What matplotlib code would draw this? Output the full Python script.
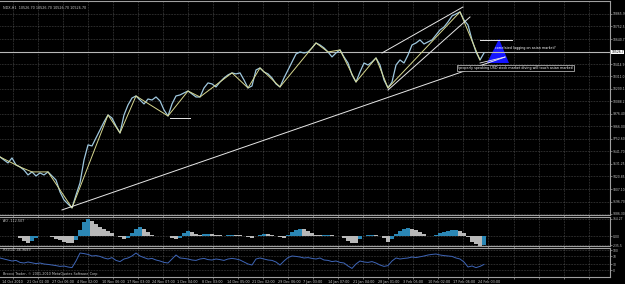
import numpy as np
import matplotlib
matplotlib.use('Agg')
import matplotlib.pyplot as plt
from matplotlib.transforms import ScaledTranslation

# ---------------- data ----------------
close = [9593, 9566, 9540, 9584, 9522, 9504, 9477, 9433, 9460, 9424, 9451, 9433,
         9460, 9424, 9388, 9282, 9211, 9175, 9140, 9255, 9362, 9566, 9700, 9691,
         9762, 9833, 9904, 9966, 9939, 9868, 9806, 9966, 10055, 10117, 10135, 10099,
         10064, 10108, 10099, 10126, 10091, 10011, 9957, 10064, 10135, 10144, 10162, 10179,
         10153, 10126, 10126, 10206, 10251, 10242, 10215, 10259, 10295, 10322, 10340, 10331,
         10340, 10277, 10206, 10224, 10366, 10384, 10348, 10331, 10295, 10242, 10215, 10295,
         10366, 10437, 10508, 10526, 10517, 10526, 10562, 10606, 10588, 10562, 10526, 10482,
         10517, 10544, 10482, 10428, 10322, 10259, 10348, 10428, 10410, 10437, 10473, 10410,
         10277, 10206, 10259, 10410, 10455, 10428, 10499, 10588, 10606, 10633, 10597, 10615,
         10633, 10677, 10722, 10748, 10793, 10846, 10864, 10882, 10810, 10766, 10633, 10526,
         10455, 10517]

zz_x = [0, 20, 32, 48, 72, 108, 120, 136, 168, 188, 200, 232, 248, 260, 280,
        316, 328, 340, 356, 376, 388, 460, 480]
zz_price = [9593, 9504, 9460, 9460, 9140, 9966, 9806, 10135, 9957, 10179, 10126, 10340,
            10206, 10384, 10215, 10606, 10526, 10544, 10259, 10473, 10206, 10882, 10455]

ao = [10, 5, 0, -5, 0, -40, -110, -140, -100, -40, -10, -5,
      5, -20, -60, -90, -120, -140, -150, -90, 120, 300, 364, 330,
      260, 200, 150, 110, 60, 5, -30, -60, -40, 60, 150, 190,
      150, 90, 20, -10, -5, 10, -5, -40, -70, -50, 60, 100,
      80, 40, 20, 40, 50, 40, 30, 20, 10, 20, 30, 25,
      15, 5, -20, -50, -10, 30, 40, 35, 20, 10, -20, -50,
      20, 80, 120, 150, 140, 100, 60, 30, 20, 25, 30, 20,
      10, 5, -40, -100, -140, -150, -60, 10, 20, 25, 15, 10,
      -50, -120, -60, 40, 100, 150, 165, 150, 120, 80, 40, 5,
      -10, 20, 60, 80, 100, 120, 130, 110, 60, -30, -120, -180,
      -220, -200]

rsi = [60, 55, 50, 45, 48, 38, 35, 40, 36, 32, 35, 30,
       28, 25, 22, 18, 20, 15, 12, 45, 85, 82, 78, 70,
       72, 68, 60, 55, 62, 48, 42, 55, 60, 70, 85, 70,
       62, 55, 58, 50, 45, 38, 35, 55, 75, 60, 58, 55,
       50, 48, 55, 58, 52, 50, 55, 52, 48, 55, 58, 55,
       50, 40, 30, 25, 55, 60, 55, 50, 48, 40, 25, 45,
       62, 70, 68, 65, 60, 62, 58, 55, 60, 50, 48, 42,
       45, 38, 35, 20, 8, 30, 45, 40, 38, 42, 35, 25,
       18, 22, 45, 60, 55, 58, 60, 65, 62, 66, 70, 75,
       78, 80, 75, 72, 70, 68, 60, 55, 40, 15, 20, 12,
       18, 28]

time_labels = ["14 Oct 2010", "21 Oct 02:00", "27 Oct 06:00", "4 Nov 02:00",
               "10 Nov 06:00", "17 Nov 03:00", "24 Nov 07:00", "1 Dec 04:00",
               "8 Dec 03:00", "14 Dec 05:00", "21 Dec 02:00", "29 Dec 06:00",
               "7 Jan 03:00", "14 Jan 07:00", "21 Jan 04:00", "28 Jan 01:00",
               "3 Feb 05:00", "10 Feb 02:00", "17 Feb 06:00", "24 Feb 03:00"]

price_ticks = [9086.30, 9196.70, 9307.10, 9420.85, 9531.25, 9641.70, 9752.60, 9866.00,
               9976.40, 10088.20, 10200.10, 10311.00, 10414.90, 10640.70, 10752.50, 10865.90]
price_tick_labels = ["9086.30", "9196.70", "9307.10", "9420.85", "9531.25", "9641.70",
                     "9752.60", "9866.00", "9976.40", "10088.2", "10200.1", "10311.0",
                     "10414.9", "10640.7", "10752.5", "10865.9"]
current_price = 10526.7

ao_ticks = [364.27, 0.0, -200.0]
ao_tick_labels = ["364.27", "0.00", "-235.5"]
rsi_ticks = [100, 70, 30, 0]
rsi_tick_labels = ["100", "70", "30", "0"]

# annotation objects (data coords)
long_trend = ([62, 505], [9122, 10481])
chan_upper = ([382, 463], [10517, 10926])
chan_lower = ([388, 470], [10188, 10837])
hline_a = ([170, 190], [9940, 9940])
hline_b = ([480, 512], [10633, 10633])
triangle = ([487, 499, 509], [10428, 10642, 10428])

# ---------------- figure ----------------
W, H = 625, 284
fig = plt.figure(figsize=(W / 100, H / 100), dpi=100, facecolor='black')


def axpx(x0, y0, x1, y1):
    return fig.add_axes([x0 / W, 1 - y1 / H, (x1 - x0) / W, (y1 - y0) / H])


ax1 = axpx(0, 1, 610, 215)
ax2 = axpx(0, 217, 610, 246)
ax3 = axpx(0, 248, 610, 277)

step = 4
x = np.arange(len(close)) * step
grid_x = 12.5 + 25.05 * np.arange(24)
FS = 2.45
FSR = 2.15
TXT = '#c8c8c8'
GRID = dict(color='#6a6a6a', linestyle=(0, (1, 1.5)), linewidth=0.45)

for ax in (ax1, ax2, ax3):
    ax.set_facecolor('black')
    ax.set_xlim(0, 610)
    for s in ax.spines.values():
        s.set_color('#a0a0a0')
        s.set_linewidth(0.8)
    ax.spines['left'].set_visible(False)
    ax.yaxis.tick_right()
    ax.tick_params(axis='y', length=1.2, width=0.4, colors=TXT, labelsize=FSR, pad=0.5)
    ax.set_xticks(grid_x)
    ax.tick_params(axis='x', length=1.5, width=0.4, colors=TXT, labelsize=FS, pad=0.8)
    ax.grid(True, **GRID)
    ax.set_axisbelow(True)

# main panel
ax1.set_ylim(9077, 10979)
ax1.set_yticks(price_ticks)
ax1.set_yticklabels(price_tick_labels)
ax1.set_xticklabels([])
ax1.axhline(current_price, color='#b8b8b8', lw=0.8)
ax1.plot(x, close, color='#9fc8df', lw=0.9)
ax1.plot(zz_x, zz_price, color='#d8d890', lw=0.7)
for xs, ys in (long_trend, chan_upper, chan_lower, hline_a, hline_b):
    ax1.plot(xs, ys, color='#e8e8e8', lw=0.7)
ax1.fill(triangle[0], triangle[1], color='#1414ff', lw=0)
ax1.plot([480, 505], [10428, 10481], color='#e8e8e8', lw=0.6)
ax1.text(495, 10562, "correlated lagging on asian market?", color='white',
         fontsize=FS, va='center', ha='left')
ax1.text(458, 10384, "(properly speaking USD stock market diving will touch asian market)",
         color='white', fontsize=FS, va='center', ha='left',
         bbox=dict(boxstyle='square,pad=0.25', fc='black', ec='#d0d0d0', lw=0.5))
ax1.text(611.5, current_price, "10526.7", color='black', fontsize=FSR, va='center', ha='left',
         bbox=dict(boxstyle='square,pad=0.1', fc='white', ec='white', lw=0), clip_on=False)
ax1.text(3, 10920, "NDX,H1  10526.70 10526.70 10526.70 10526.70", color=TXT,
         fontsize=FS, va='center', ha='left')

# AO panel
ao_colors = ['#2b87b5' if (i == 0 or ao[i] >= ao[i - 1]) else '#b8b8b8' for i in range(len(ao))]
ax2.bar(x, ao, width=step, color=ao_colors, linewidth=0)
ax2.set_ylim(-214, 407)
ax2.set_yticks(ao_ticks)
ax2.set_yticklabels(ao_tick_labels)
ax2.set_xticklabels([])
ax2.text(3, 330, "AO -112.507", color=TXT, fontsize=FS, va='center', ha='left')

# RSI panel
ax3.plot(x, rsi, color='#3f66b8', lw=0.7)
ax3.set_ylim(-35, 110)
ax3.set_yticks(rsi_ticks)
ax3.set_yticklabels(rsi_tick_labels)
ax3.set_xticklabels(time_labels + [""] * (len(grid_x) - len(time_labels)))
shift = ScaledTranslation(-10.5 / 100, 0, fig.dpi_scale_trans)
for lbl in ax3.get_xticklabels():
    lbl.set_horizontalalignment('left')
    lbl.set_transform(lbl.get_transform() + shift)
ax3.text(3, 98, "RSI(14) 46.9689", color=TXT, fontsize=FS, va='center', ha='left')
ax3.text(3, -20, "Brocco Trader, \u00a9 2001-2010 MetaQuotes Software Corp.", color=TXT,
         fontsize=FS, va='center', ha='left')

fig.savefig('out.png', dpi=100, facecolor='black')
